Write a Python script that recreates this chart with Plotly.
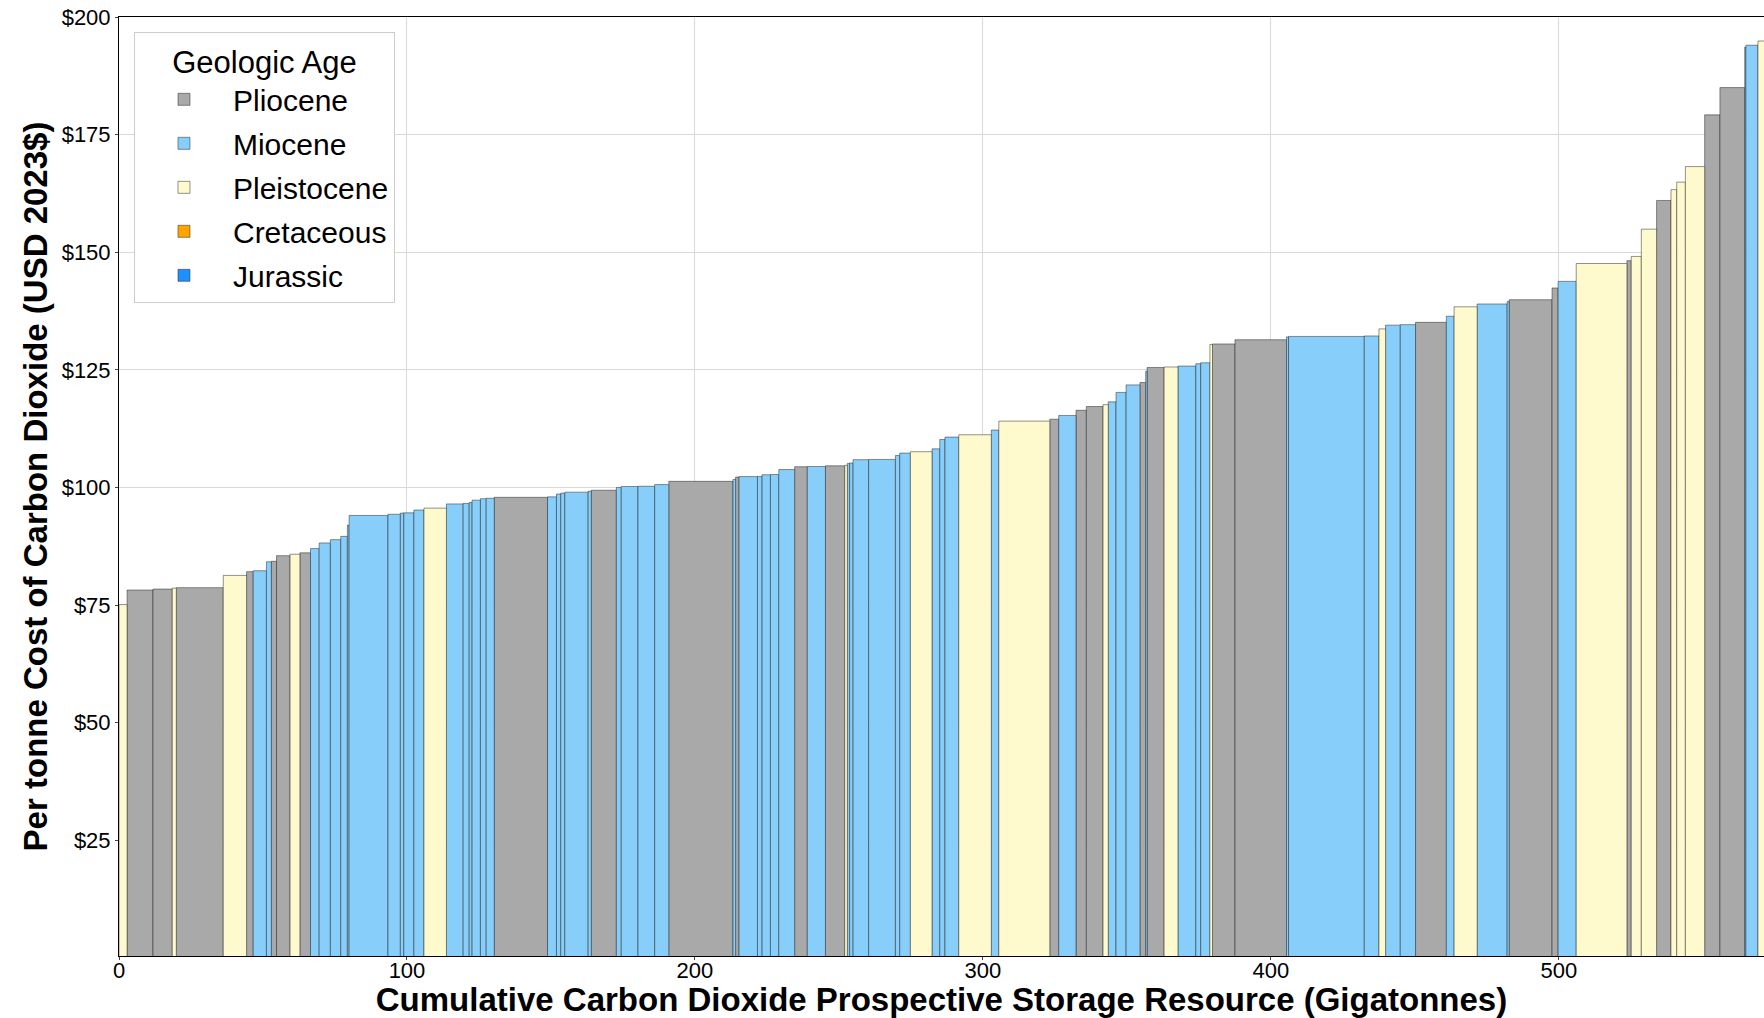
import numpy as np
import plotly.graph_objects as go

# ---- data ----
widths = [2.8, 9.0, 6.7, 1.4, 16.3, 8.1, 2.3, 4.6, 1.7, 1.8,
          4.7, 3.4, 3.7, 3.0, 3.9, 3.6, 2.3, 0.6, 13.5, 4.3,
          1.2, 3.5, 3.5, 7.8, 5.8, 2.1, 1.0, 2.9, 2.0, 2.8,
          18.5, 3.1, 1.5, 1.4, 8.1, 1.1, 8.7, 1.7, 5.8, 5.8,
          4.9, 22.3, 0.9, 1.2, 6.4, 1.6, 2.9, 2.9, 5.5, 4.4,
          6.3, 6.7, 0.9, 0.8, 1.2, 5.4, 9.3, 1.5, 3.7, 7.5,
          2.7, 1.8, 4.8, 11.3, 2.6, 17.7, 3.1, 6.0, 3.6, 5.8,
          1.8, 2.7, 3.5, 4.8, 2.0, 0.5, 5.9, 4.8, 6.2, 1.7,
          3.2, 0.9, 7.8, 17.9, 0.7, 26.3, 5.1, 2.3, 5.1, 5.3,
          10.7, 2.7, 8.0, 10.4, 0.7, 14.9, 2.1, 6.3, 17.6, 1.5,
          3.5, 5.3, 5.0, 2.0, 3.0, 6.7, 5.3, 8.6, 0.4, 4.2, 2.9]

costs = [75.1, 78.2, 78.4, 78.6, 78.7, 81.3, 82.1, 82.3, 84.2, 84.3,
         85.5, 85.8, 86.1, 87.0, 88.2, 88.9, 89.6, 92.0, 94.05, 94.3,
         94.55, 94.6, 95.2, 95.6, 96.5, 96.6, 96.8, 97.3, 97.6, 97.7,
         97.9, 98.0, 98.6, 98.8, 99.0, 99.2, 99.4, 100.0, 100.2, 100.25,
         100.6, 101.3, 101.7, 102.2, 102.3, 102.35, 102.7, 102.75, 103.8, 104.4,
         104.45, 104.6, 104.7, 105.1, 105.2, 105.9, 105.95, 106.8, 107.3, 107.6,
         108.2, 110.2, 110.7, 111.2, 112.2, 114.1, 114.5, 115.3, 116.4, 117.2,
         117.6, 118.2, 120.2, 121.8, 122.3, 124.7, 125.5, 125.6, 125.8, 126.3,
         126.5, 130.4, 130.5, 131.4, 132.0, 132.1, 132.2, 133.7, 134.5, 134.6,
         135.1, 136.4, 138.4, 139.0, 139.5, 139.9, 142.4, 143.8, 147.6, 148.2,
         149.1, 154.9, 161.0, 163.3, 164.9, 168.2, 179.2, 185.0, 193.6, 194.0, 194.9]

PLI, MIO, PLE = "Pliocene", "Miocene", "Pleistocene"
ages = [PLE, PLI, PLI, PLE, PLI, PLE, PLI, MIO, MIO, PLI,
        PLI, PLE, PLI, MIO, MIO, MIO, MIO, MIO, MIO, MIO,
        MIO, MIO, MIO, PLE, MIO, MIO, MIO, MIO, MIO, MIO,
        PLI, MIO, MIO, MIO, MIO, MIO, PLI, MIO, MIO, MIO,
        MIO, PLI, MIO, PLI, MIO, MIO, MIO, MIO, MIO, PLI,
        MIO, PLI, PLE, MIO, MIO, MIO, MIO, MIO, MIO, PLE,
        MIO, MIO, MIO, PLE, MIO, PLE, PLI, MIO, PLI, PLI,
        PLE, MIO, MIO, MIO, PLI, MIO, PLI, PLE, MIO, MIO,
        MIO, PLE, PLI, PLI, MIO, MIO, MIO, PLE, MIO, MIO,
        PLI, MIO, PLE, MIO, MIO, PLI, PLI, MIO, PLE, PLI,
        PLE, PLE, PLI, PLE, PLE, PLE, PLI, PLI, MIO, MIO, PLE]

age_order = ["Pliocene", "Miocene", "Pleistocene", "Cretaceous", "Jurassic"]
age_colors = {"Pliocene": "#A9A9A9", "Miocene": "#87CEFA", "Pleistocene": "#FFFACD",
              "Cretaceous": "#FFA500", "Jurassic": "#1E90FF"}

y_ticks = [25, 50, 75, 100, 125, 150, 175, 200]
y_tick_labels = ["$25", "$50", "$75", "$100", "$125", "$150", "$175", "$200"]
x_ticks = [0, 100, 200, 300, 400, 500]

assert len(widths) == len(costs) == len(ages)

w = np.array(widths)
c = np.array(costs)
a = np.array(ages)
left = np.concatenate([[0.0], np.cumsum(w)[:-1]])
center = left + w / 2

fig = go.Figure()
for age in age_order:
    m = a == age
    if m.any():
        xs, ys, ws = center[m], c[m], w[m]
    else:
        xs, ys, ws = [None], [None], [1]
    fig.add_trace(go.Bar(
        x=xs, y=ys, width=ws, base=0, name=age, legendgroup=age,
        marker=dict(color=age_colors[age],
                    line=dict(color="rgba(30,30,30,0.6)", width=0.8)),
        hovertemplate="%{y:$.2f}<extra>" + age + "</extra>",
    ))

FONT = "Arial, Liberation Sans, sans-serif"
fig.update_layout(
    width=1764, height=1018,
    margin=dict(l=119, r=0, t=17, b=62, autoexpand=False),
    barmode="overlay",
    plot_bgcolor="white", paper_bgcolor="white",
    font=dict(family=FONT, color="black", size=22),
    showlegend=True,
    legend=dict(
        title=dict(text="Geologic Age", side="top center", font=dict(size=31)),
        font=dict(size=30),
        x=0.0091, y=0.984, xanchor="left", yanchor="top",
        bgcolor="white", bordercolor="#cccccc", borderwidth=1,
        itemwidth=88, tracegroupgap=2,
    ),
)
fig.update_xaxes(
    range=[0, 571.2], tickvals=x_ticks, ticks="outside", ticklen=3,
    ticklabelstandoff=-8,
    tickfont=dict(size=22), showgrid=True, gridcolor="#d9d9d9", gridwidth=1,
    showline=True, linecolor="black", linewidth=1, mirror=True, zeroline=False,
    automargin=False,
    title=dict(text="<b>Cumulative Carbon Dioxide Prospective Storage Resource (Gigatonnes)</b>",
               font=dict(size=33), standoff=18),
)
fig.update_yaxes(
    range=[0.4, 200], tickvals=y_ticks, ticktext=y_tick_labels, ticks="outside", ticklen=3,
    tickfont=dict(size=22), showgrid=True, gridcolor="#d9d9d9", gridwidth=1,
    showline=True, linecolor="black", linewidth=1, mirror=True, zeroline=False,
    automargin=False,
    title=dict(text="<b>Per tonne Cost of Carbon Dioxide (USD 2023$)</b>",
               font=dict(size=33), standoff=4),
)

fig.write_html("out.html",
               config={"displayModeBar": False},
               post_script="document.body.style.margin='0';document.body.style.overflow='hidden';")
